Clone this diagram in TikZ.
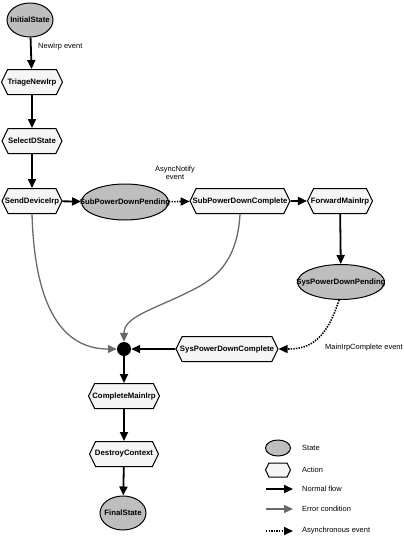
\documentclass[tikz,border=0pt]{standalone}
\usepackage{fontspec}
\setmainfont{Liberation Sans}
\usetikzlibrary{shapes.geometric,shapes.symbols,arrows.meta}
\definecolor{stategray}{RGB}{190,190,190}
\definecolor{errgray}{RGB}{105,105,105}
\definecolor{actfill}{RGB}{245,245,245}
\newcommand{\zb}[1]{\makebox[0pt]{#1}}
\begin{document}
\begin{tikzpicture}[x=1pt,y=-1pt,
  lbl/.style={font=\fontsize{7.8}{9}\selectfont\bfseries},
  st/.style={ellipse, draw, line width=1pt, fill=stategray, inner sep=0pt, lbl},
  act/.style={signal, signal to=west and east, signal pointer angle=128, draw, line width=1pt, fill=actfill, inner sep=0pt, minimum height=25pt, lbl},
  tip/.style={-{Triangle[length=9pt,width=8pt]}},
  flow/.style={line width=1.8pt, tip},
  err/.style={line width=1.3pt, draw=errgray, tip},
  async/.style={line width=1.6pt, dash pattern=on 1.4pt off 1.2pt, tip},
  txt/.style={font=\fontsize{7.5}{8.5}\selectfont, inner sep=0pt}
]
\useasboundingbox (0,0) rectangle (404,536);
% main nodes
\node[st, minimum width=46pt, minimum height=34pt] (is) at (30,20) {\zb{InitialState}};
\node[act, minimum width=61pt] (tn) at (32,82) {\zb{TriageNewIrp}};
\node[act, minimum width=60pt] (sd) at (32,141) {\zb{SelectDState}};
\node[act, minimum width=60pt] (sdi) at (32,201) {\zb{SendDeviceIrp}};
\node[st, minimum width=87pt, minimum height=36pt] (spdp) at (125,202) {\zb{SubPowerDownPending}};
\node[act, minimum width=100pt] (spdc) at (240,201) {\zb{SubPowerDownComplete}};
\node[act, minimum width=65pt] (fmi) at (340,201) {\zb{ForwardMainIrp}};
\node[st, minimum width=87pt, minimum height=35pt] (syspp) at (341,282) {\zb{SysPowerDownPending}};
\node[act, minimum width=102pt] (syspc) at (227,349) {\zb{SysPowerDownComplete}};
\node[circle, fill, inner sep=0pt, minimum size=14pt] (dot) at (124,349) {};
\node[act, minimum width=71pt] (cmi) at (124,396) {\zb{CompleteMainIrp}};
\node[act, minimum width=69pt] (dc) at (124,454) {\zb{DestroyContext}};
\node[st, minimum width=46pt, minimum height=34pt] (fs) at (123,513) {\zb{FinalState}};
% labels
\node[txt, anchor=west] (l1) at (38,47) {NewIrp event};
\node[txt, align=center] (l2) at (175,173) {AsyncNotify\\event};
\node[txt, anchor=west] (l3) at (325,348) {MainIrpComplete event};
% connectors
\draw[flow] (is) -- (tn);
\draw[flow] (tn) -- (sd);
\draw[flow] (sd) -- (sdi);
\draw[flow] (sdi) -- (spdp);
\draw[async] (spdp) -- (spdc);
\draw[flow] (spdc) -- (fmi);
\draw[flow] (fmi) -- (syspp);
\draw[async] ([xshift=-2pt]syspp.south) .. controls (325,345) and (305,349) .. (syspc.east);
\draw[flow] (syspc) -- (dot);
\draw[err] (sdi.south) .. controls (35,320) and (70,349) .. (dot.west);
\draw[err] (spdc.south) .. controls (238,250) and (225,272) .. (200,286) .. controls (160,308) and (124,315) .. (dot.north);
\draw[flow] (dot) -- (cmi);
\draw[flow] (cmi) -- (dc);
\draw[flow] (dc) -- (fs);
% legend
\node[ellipse, draw, line width=1pt, fill=stategray, inner sep=0pt, minimum width=25pt, minimum height=16pt] (lgs) at (278,448) {};
\node[signal, signal to=west and east, signal pointer angle=128, draw, line width=1pt, fill=actfill, inner sep=0pt, minimum width=25pt, minimum height=14pt] (lga) at (278,470) {};
\coordinate (ln1) at (266,489); \coordinate (ln2) at (293,489);
\coordinate (le1) at (266,509); \coordinate (le2) at (293,509);
\coordinate (la1) at (266,531); \coordinate (la2) at (293,531);
\draw[flow] (ln1) -- (ln2);
\draw[err] (le1) -- (le2);
\draw[async] (la1) -- (la2);
\node[txt, anchor=west] (t1) at (302,448) {State};
\node[txt, anchor=west] (t2) at (302,470) {Action};
\node[txt, anchor=west] (t3) at (302,489) {Normal flow};
\node[txt, anchor=west] (t4) at (302,509) {Error condition};
\node[txt, anchor=west] (t5) at (302,531) {Asynchronous event};
\end{tikzpicture}
\end{document}
